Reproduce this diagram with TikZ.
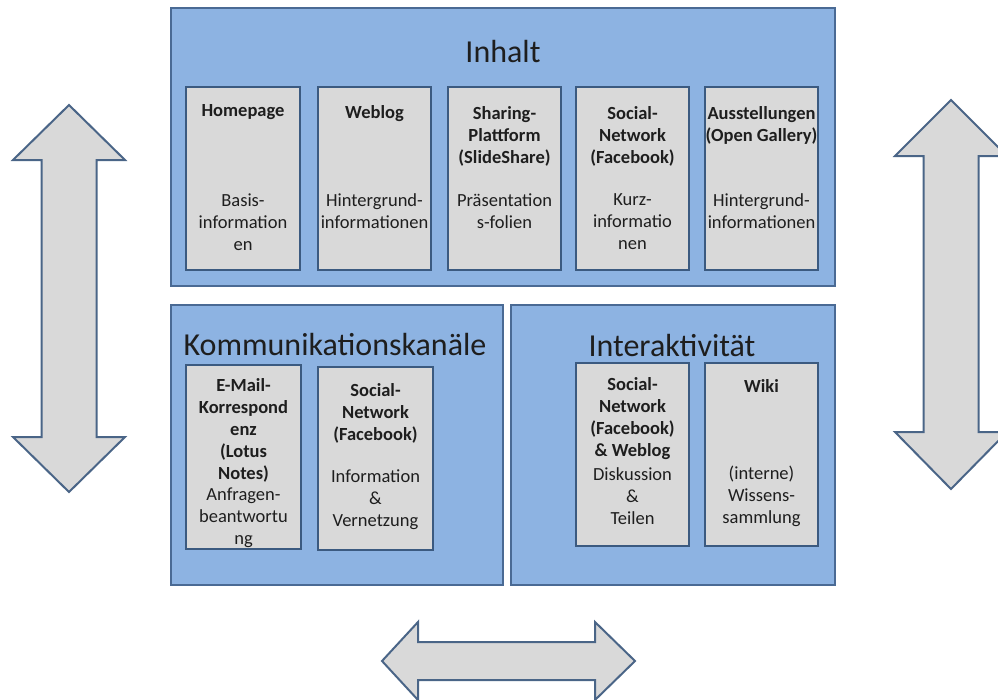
\documentclass[tikz,border=0pt]{standalone}
\usepackage{fontspec}
\setmainfont{Carlito}
\definecolor{outerfill}{HTML}{8DB3E2}
\definecolor{outerline}{HTML}{4A6A94}
\definecolor{innerfill}{HTML}{D9D9D9}
\definecolor{innerline}{HTML}{3B5A80}
\definecolor{arrowline}{HTML}{4A6587}
\definecolor{txt}{HTML}{1E1E1E}
\tikzset{
  outerbox/.style={draw=outerline,fill=outerfill,line width=2pt},
  innerbox/.style={draw=innerline,fill=innerfill,line width=2pt},
  bigarrow/.style={draw=arrowline,fill=innerfill,line width=2pt,line join=miter},
  titletext/.style={inner sep=0pt,text=txt,font=\fontsize{32}{38}\selectfont},
  headtext/.style={inner sep=0pt,align=center,text=txt,font=\fontsize{18.5}{22}\selectfont\bfseries},
  bodytext/.style={inner sep=0pt,align=center,text=txt,font=\fontsize{18.5}{22}\selectfont},
}
\begin{document}
\begin{tikzpicture}[x=1pt,y=-1pt]
\useasboundingbox (0,0) rectangle (998,699);
\clip (0,0) rectangle (998,699);
% outer boxes
\draw[outerbox] (171,8) rectangle (835,286);
\draw[outerbox] (171,305) rectangle (503,585);
\draw[outerbox] (511,305) rectangle (835,585);
\node[titletext] (tInhalt) at (503,52) {Inhalt};
\node[titletext] (tKomm) at (335,345) {Kommunikationskanäle};
\node[titletext] (tInter) at (672,346) {Interaktivität};
% inner boxes top
\draw[innerbox] (186,87) rectangle (300,270);
\draw[innerbox] (318,87) rectangle (431,270);
\draw[innerbox] (448,87) rectangle (561,270);
\draw[innerbox] (576,87) rectangle (689,270);
\draw[innerbox] (705,87) rectangle (818,270);
\node[headtext] (h1) at (243,112) {Homepage};
\node[bodytext] (b1) at (243,222) {Basis-\\information\\en};
\node[headtext] (h2) at (374.5,114) {Weblog};
\node[bodytext] (b2) at (374.5,211) {Hintergrund-\\informationen};
\node[headtext] (h3) at (504.5,136) {Sharing-\\Plattform\\(SlideShare)};
\node[bodytext] (b3) at (504.5,211) {Präsentation\\s-folien};
\node[headtext] (h4) at (632.5,136) {Social-\\Network\\(Facebook)};
\node[bodytext] (b4) at (632.5,222) {Kurz-\\informatio\\nen};
\node[headtext] (h5) at (761.5,125) {Ausstellungen\\(Open Gallery)};
\node[bodytext] (b5) at (761.5,211) {Hintergrund-\\informationen};
% inner boxes bottom
\draw[innerbox] (186,365) rectangle (301,549);
\draw[innerbox] (318,367) rectangle (433,550);
\draw[innerbox] (576,363) rectangle (689,546);
\draw[innerbox] (705,363) rectangle (818,546);
\node[headtext] (h6) at (243.5,430) {E-Mail-\\Korrespond\\enz\\(Lotus\\Notes)};
\node[bodytext] (b6) at (243.5,518) {Anfragen-\\beantwortu\\ng};
\node[headtext] (h7) at (375.5,413) {Social-\\Network\\(Facebook)};
\node[bodytext] (b7) at (375.5,500) {Information\\\&\\Vernetzung};
\node[headtext] (h8) at (632.5,419) {Social-\\Network\\(Facebook)\\\& Weblog};
\node[bodytext] (b8) at (632.5,496) {Diskussion\\\&\\Teilen};
\node[headtext] (h9) at (761.5,386) {Wiki};
\node[bodytext] (b9) at (761.5,496) {(interne)\\Wissens-\\sammlung};
% arrows
\draw[bigarrow] (69,105) -- (125,160) -- (96.5,160) -- (96.5,437) -- (125,437) -- (69,492)
  -- (13,437) -- (41.5,437) -- (41.5,160) -- (13,160) -- cycle;
\draw[bigarrow] (951,100) -- (1007,156) -- (978.5,156) -- (978.5,432) -- (1007,432) -- (951,489)
  -- (895,432) -- (923.5,432) -- (923.5,156) -- (895,156) -- cycle;
\draw[bigarrow] (382,661) -- (418,622) -- (418,642) -- (595,642) -- (595,622) -- (635,661)
  -- (595,700) -- (595,680) -- (418,680) -- (418,700) -- cycle;
\end{tikzpicture}
\end{document}
